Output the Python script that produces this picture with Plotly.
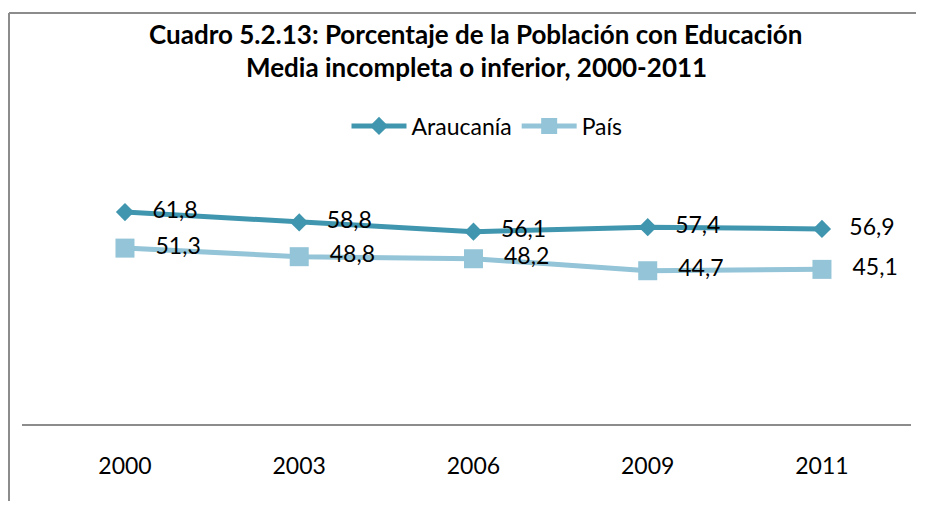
import plotly.graph_objects as go

years = ["2000", "2003", "2006", "2009", "2011"]
araucania = [61.8, 58.8, 56.1, 57.4, 56.9]
pais = [51.3, 48.8, 48.2, 44.7, 45.1]

FONT = "Lato"
# page body has an 8px margin; figure sized to fit the 925x509 window
W, H = 909, 493
L, R, T, B = 14, 6, 176, 77
pw = W - L - R
ph = H - T - B
PAD = "\u00a0\u00a0\u00a0"

fig = go.Figure()
fig.add_trace(go.Scatter(
    x=years, y=araucania, name="Araucanía", mode="lines+markers+text",
    line=dict(color="#4096AE", width=5),
    marker=dict(symbol="diamond", size=14, color="#4096AE"),
    texttemplate=PAD + "%{y:.1f}", textposition="middle right",
    textfont=dict(family=FONT, size=23, color="#000000"),
    cliponaxis=False,
))
fig.add_trace(go.Scatter(
    x=years, y=pais, name="País", mode="lines+markers+text",
    line=dict(color="#93C4D7", width=5),
    marker=dict(symbol="square", size=19, color="#93C4D7"),
    texttemplate=PAD + "%{y:.1f}", textposition="middle right",
    textfont=dict(family=FONT, size=23, color="#000000"),
    cliponaxis=False,
))

bx = (1 - L) / pw
by = (H - B - 5) / ph
fig.update_layout(
    width=W, height=H,
    margin=dict(l=L, r=R, t=T, b=B, autoexpand=False),
    paper_bgcolor="white", plot_bgcolor="white",
    separators=",.",
    font=dict(family=FONT, size=23, color="#000000"),
    showlegend=True,
    legend=dict(orientation="h", x=(479 - L) / pw, xanchor="center",
                y=(H - B - 118) / ph, yanchor="middle",
                font=dict(family=FONT, size=23), itemwidth=55,
                bgcolor="rgba(0,0,0,0)"),
    xaxis=dict(type="category", range=[-0.591, 4.511], showgrid=False,
               showline=True, linecolor="#8C8C8C", linewidth=2,
               ticks="", ticklabelstandoff=20,
               tickfont=dict(family=FONT, size=23), zeroline=False),
    yaxis=dict(range=[0, 70], visible=False, showgrid=False, zeroline=False),
    annotations=[
        dict(text="<b>Cuadro 5.2.13: Porcentaje de la Población con Educación</b>",
             xref="paper", yref="paper", x=(467 - L) / pw, y=(H - B - 26) / ph,
             xanchor="center", yanchor="middle", showarrow=False,
             font=dict(family=FONT, size=26)),
        dict(text="<b>Media incompleta o inferior, 2000-2011</b>",
             xref="paper", yref="paper", x=(468 - L) / pw, y=(H - B - 59) / ph,
             xanchor="center", yanchor="middle", showarrow=False,
             font=dict(family=FONT, size=26)),
    ],
    shapes=[
        dict(type="line", xref="paper", yref="paper",
             x0=bx, x1=(W - 1 - L) / pw, y0=by, y1=by,
             line=dict(color="#8C8C8C", width=2), layer="below"),
        dict(type="line", xref="paper", yref="paper",
             x0=bx, x1=bx, y0=-B / ph, y1=by,
             line=dict(color="#8C8C8C", width=2), layer="below"),
    ],
)

fig.write_html("out.html")
